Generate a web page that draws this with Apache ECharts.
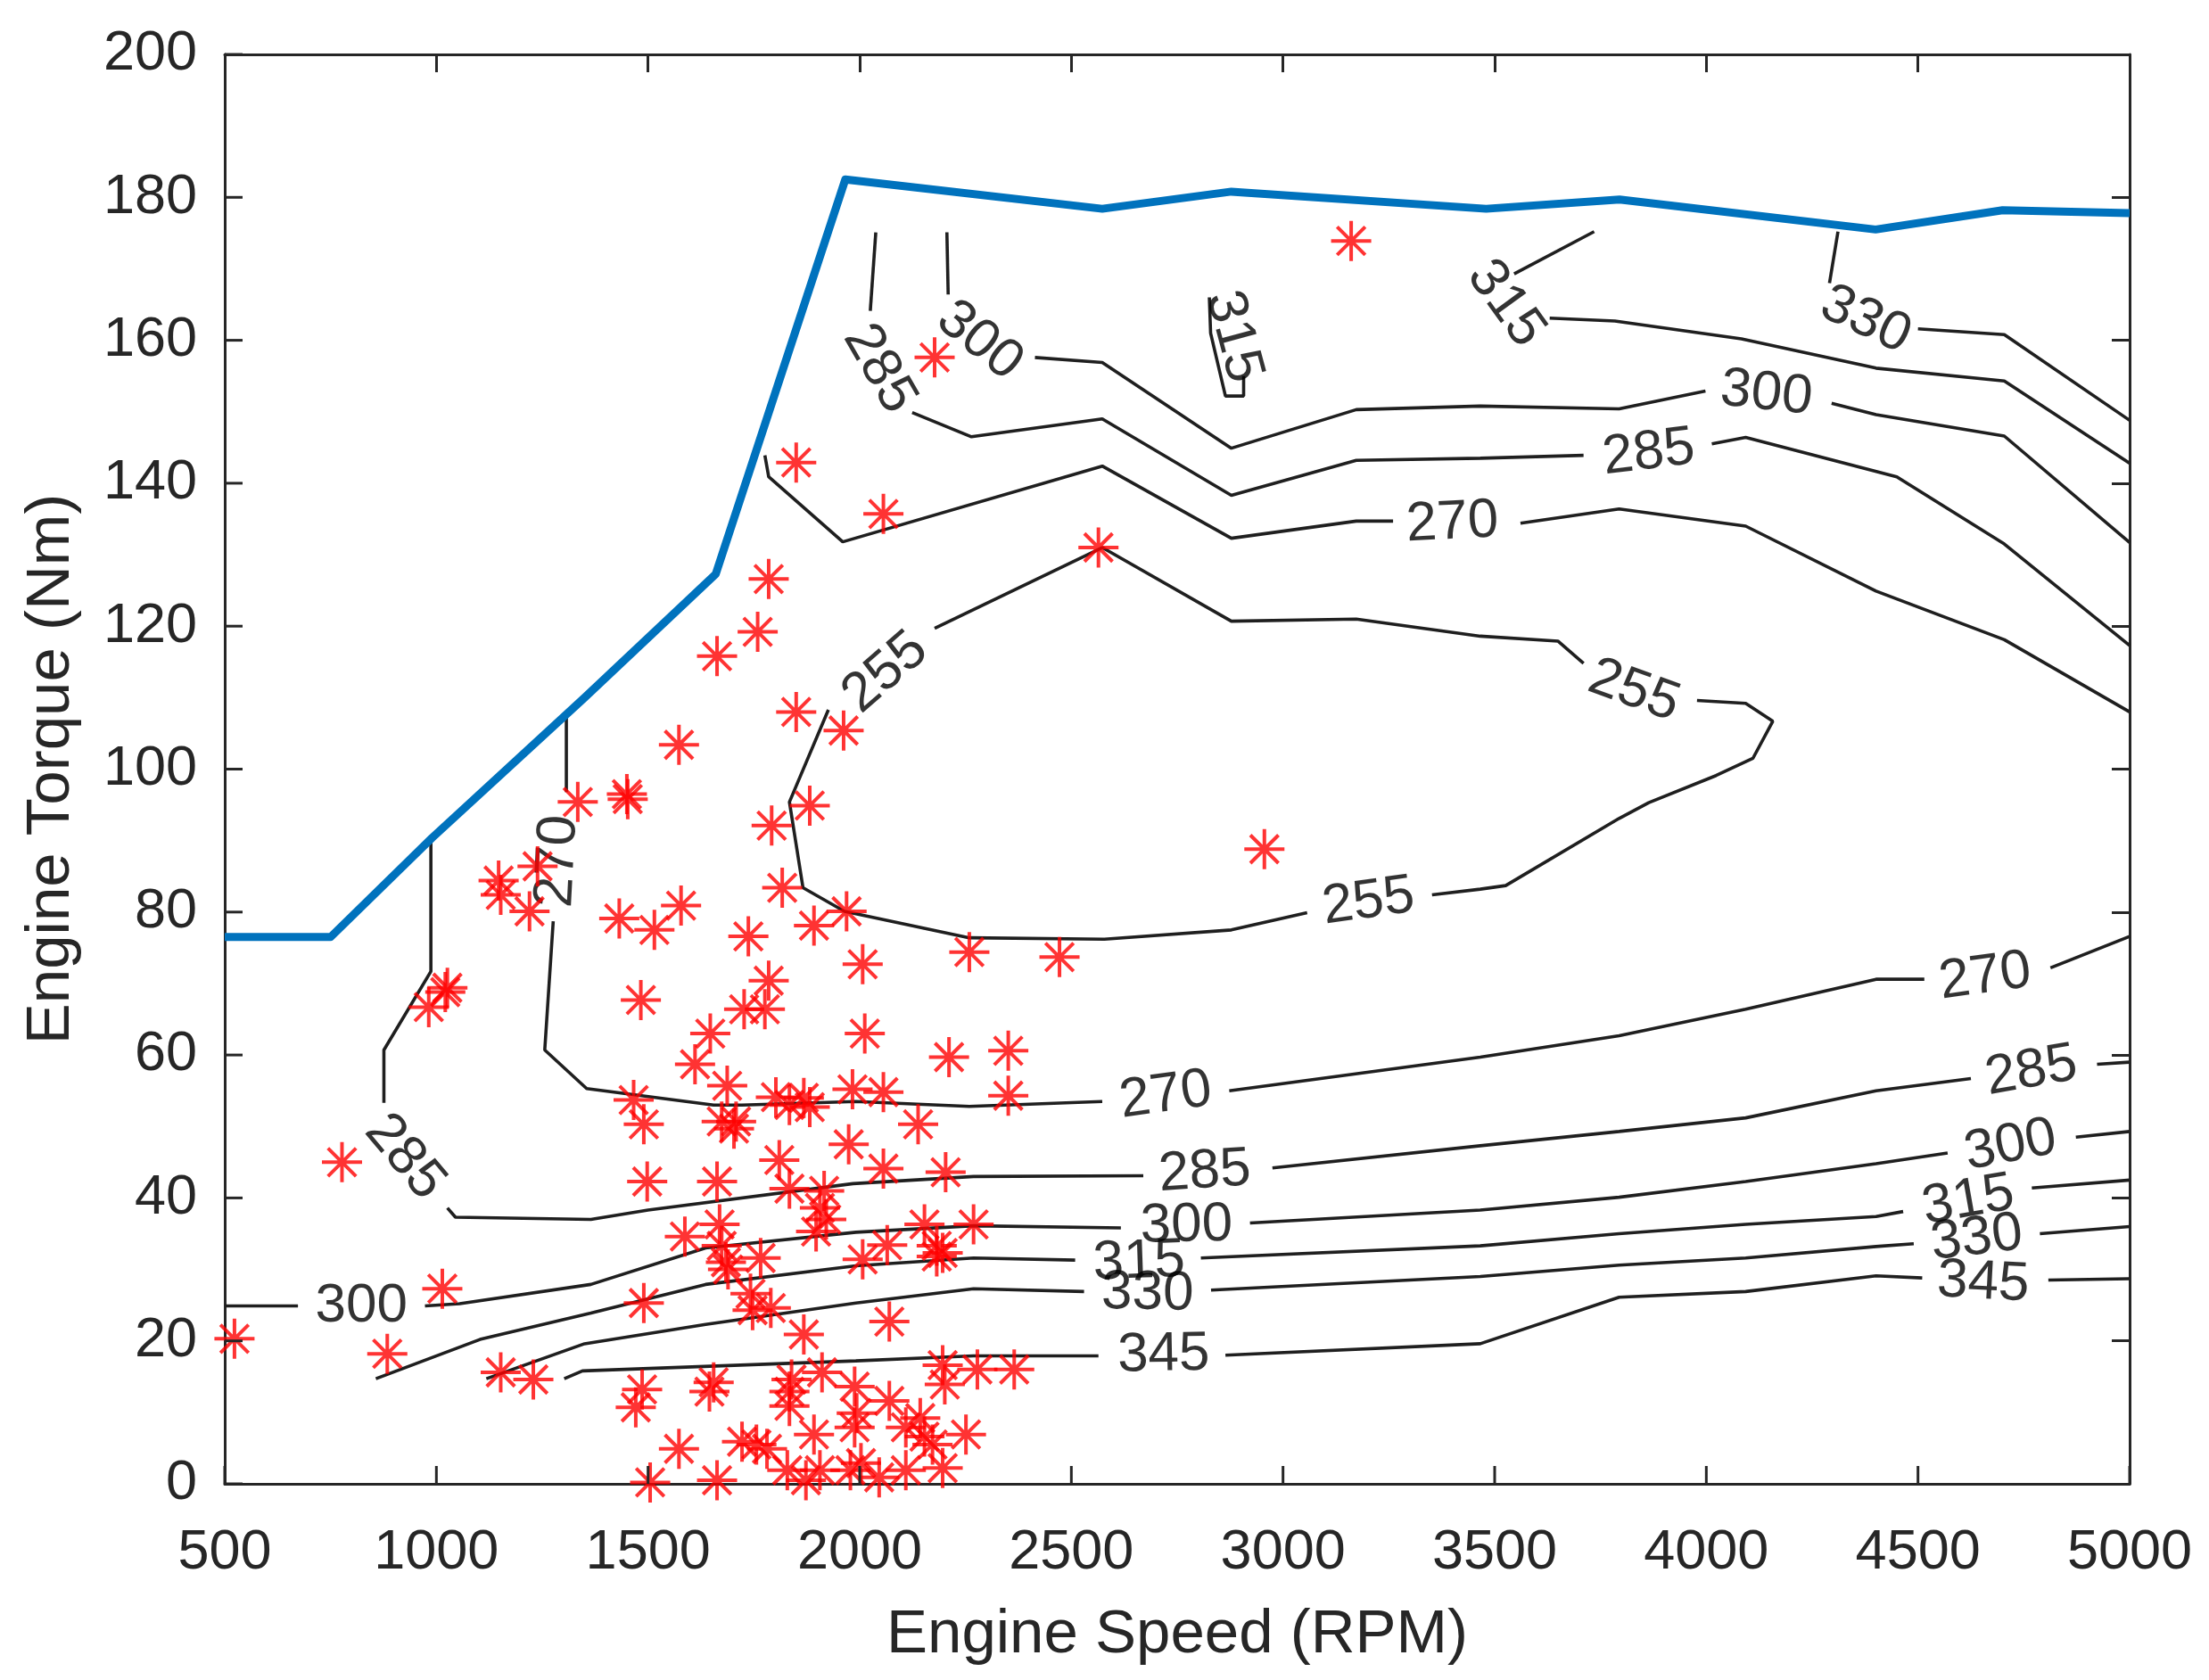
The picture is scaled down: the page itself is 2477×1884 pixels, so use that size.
<!DOCTYPE html>
<html><head><meta charset="utf-8">
<script src="https://cdn.jsdelivr.net/npm/echarts@6/dist/echarts.min.js"></script>
<style>html,body{margin:0;padding:0;background:#fff}#c{width:2477px;height:1884px}</style>
</head><body><div id="c"></div>
<script>
// ---- data (engine speed [RPM], torque [Nm]) ----
const xTicks = [500,1000,1500,2000,2500,3000,3500,4000,4500,5000];
const yTicks = [0,20,40,60,80,100,120,140,160,180,200];

const maxTorque = [[500,76.5],[750,76.5],[990,90.4],[1350,110],[1660,127.3],[1966,182.5],[2573,178.4],[2878,180.8],[3480,178.4],[3795,179.7],[4400,175.5],[4700,178.2],[5000,177.8]];

// contour polylines; null = gap where an inline label sits
const c255 = [[2177,119.7],[2573,131.0],[2878,120.7],[3173,121.0],[3466,118.6],[3650,117.9],[3710,114.8],null,
  [3978,109.6],[4093,109.2],[4157,106.7],[4110,101.5],[4023,99.1],[3864,95.3],[3794,93.1],[3526,83.7],[3466,83.2],[3352,82.4],null,
  [3057,79.9],[2878,77.5],[2578,76.2],[2259,76.4],[1964,80.1],[1866,83.4],[1834,95.4],[1926,108.3]];
const c270upper = [[1776,143.9],[1785,140.9],[1960,131.8],[2573,142.4],[2878,132.3],[3173,134.7],[3260,134.7],null,
  [3561,134.4],[3794,136.4],[4093,134.0],[4401,124.9],[4704,118.1],[5000,108.0]];
const c270lower = [[1307,107.5],[1307,96.8],null,[1276,78.7],[1256,60.7],[1355,55.3],[1655,53.0],[1722,53.0],[1991,53.5],[2259,52.8],[2573,53.5],null,
  [2873,55.0],[3466,59.7],[3794,62.7],[4093,66.4],[4401,70.6],[4515,70.6],null,[4813,72.2],[5000,76.6]];
const c285upper = [[2038,175.1],[2025,164.1],null,[2124,149.9],[2264,146.5],[2573,149.0],[2878,138.3],[3173,143.2],[3466,143.5],[3710,143.9],null,
  [4013,145.5],[4093,146.4],[4450,140.9],[4704,131.5],[5000,117.3]];
const c285lower = [[987,89.8],[987,71.7],[876,60.7],[876,53.3],null,[1026,38.6],[1045,37.3],[1365,37.0],[1500,38.3],[1984,42.0],[2269,43.0],[2670,43.1],null,
  [2975,44.2],[3466,47.3],[3794,49.3],[4093,51.2],[4401,55.0],[4625,56.7],null,[4923,58.7],[5000,59.0]];
const c300upper = [[2206,175.1],[2209,166.4],null,[2414,157.6],[2573,156.9],[2878,144.9],[3173,150.3],[3466,150.8],[3794,150.4],[3998,152.9],null,
  [4296,151.2],[4401,149.6],[4704,146.6],[5000,131.7]];
const c300lower = [[500,24.9],[673,24.9],null,[973,24.9],[1055,25.2],[1365,27.9],[1636,33.0],[1991,35.2],[2269,36.1],[2617,35.8],null,
  [2922,36.5],[3466,38.3],[3794,40.1],[4093,42.3],[4401,44.8],[4570,46.3],null,[4873,48.5],[5000,49.3]];
const c315top = [[3735,175.2],[3546,169.3],null,[3630,163.1],[3784,162.7],[4083,160.2],[4401,156.1],[4704,154.3],[5000,142.8]];
const c315mid = [[2826,166.0],[2829,161.0],[2864,152.2],[2907,152.2],[2907,155.0]];
const c315lower = [[857,14.7],[1103,20.2],[1365,23.9],[1636,27.9],[1991,30.5],[2269,31.6],[2509,31.3],null,
  [2806,31.6],[3466,33.3],[3794,35.0],[4093,36.3],[4401,37.4],[4465,38.1],null,[4769,41.4],[5000,42.5]];
const c330top = [[4311,175.2],[4291,168.0],null,[4500,161.6],[4704,160.8],[5000,148.8]];
const c330lower = [[1118,14.7],[1350,19.6],[1636,22.3],[1991,25.3],[2269,27.3],[2530,26.9],null,
  [2830,27.1],[3466,29.0],[3794,30.6],[4093,31.6],[4401,33.2],[4490,33.6],null,[4788,35.0],[5000,36.0]];
const c345 = [[1302,14.7],[1345,15.8],[1991,17.2],[2269,17.9],[2564,17.9],null,
  [2864,18.0],[3466,19.6],[3794,26.1],[4093,26.9],[4401,29.1],[4510,28.8],null,[4808,28.5],[5000,28.7]];

// inline contour labels: [rpm, torque, text, angle]
const contourLabels = [
  [2061,113.5,'255',41],[3829,110.9,'255',-20],[3202,81.4,'255',8],
  [3400,134.4,'270',3],[1287,87.1,'270',87],[2723,54.3,'270',8],[4659,70.9,'270',8],
  [2046,156.0,'285',-60],[3864,144.2,'285',7],[925,45.7,'285',-50],[2815,43.6,'285',4],[4768,57.7,'285',10],
  [2283,159.9,'300',-39],[4142,152.5,'300',-6],[823,24.9,'300',0],[2772,36.1,'300',1],[4719,47.3,'300',11],
  [3526,165.1,'315',-54],[2883,160.5,'315',-75],[2660,31.0,'315',2],[4619,39.6,'315',10],
  [4376,162.8,'330',-25],[2680,26.6,'330',-1],[4639,34.3,'330',7],
  [2718,18.0,'345',1],[4654,28.1,'345',-3]
];

const operatingPoints = [
  [1850,142.9],[1785,126.6],[1759,119.2],[1663,115.8],[1850,108.0],[1573,103.4],[1962,105.4],[2177,157.6],[2056,135.7],[2564,131.0],[3161,173.9],
  [1334,95.4],[1450,96.5],[1452,95.8],[1239,86.4],[1147,84.4],[1152,82.4],[1220,80.1],[1432,79.1],[1515,77.5],[1578,80.9],[1737,76.6],
  [1792,92.1],[1882,94.9],[1817,83.4],[1892,78.1],[1969,80.1],[2007,72.7],[1026,69.4],[1021,68.8],[982,66.7],
  [1483,67.7],[1785,70.4],[1727,66.4],[1776,66.4],[1647,63.0],[1611,58.7],[2012,63.0],
  [1687,55.7],[1466,53.7],[1490,50.3],[1802,54.1],[1834,53.0],[1868,54.0],[1882,52.7],[1983,55.2],[1674,50.7],[1703,49.7],[1708,50.7],
  [1810,45.3],[777,45.0],[1498,42.3],[1663,42.3],[1834,41.3],[1974,47.5],
  [1916,41.0],[1906,38.6],[1921,37.0],[1897,35.3],
  [1587,34.6],[1669,36.3],[1674,33.3],[1684,31.0],[1689,30.0],[1766,31.6],[1742,26.6],[1747,24.3],[1790,24.6],[1868,20.9],
  [1490,25.3],[1014,27.3],[523,20.3],[884,18.2],[1152,15.6],[1229,14.6],[1486,13.2],[1471,10.7],[1655,14.2],[1645,12.9],
  [1839,14.6],[1834,12.9],[1834,10.9],[1911,15.6],[1573,4.9],[1722,5.9],[1756,5.5],[1781,4.9],[1892,6.9],
  [1505,0.2],[1663,0.5],[1829,1.9],[1873,0.5],[1906,1.9],[1978,1.9],
  [2956,88.8],[2259,74.4],[2472,73.7],[2211,59.7],[2351,60.6],[2056,54.8],[2351,54.3],[2138,50.3],[2056,44.1],[2203,43.6],
  [2153,36.3],[2269,36.3],[2065,33.4],[2007,31.4],[2182,33.3],[2182,31.8],[2196,32.3],[2070,22.7],
  [2196,16.6],[2278,16.0],[2365,16.0],[2201,13.9],[1988,13.6],[1993,9.9],[2070,11.6],[1988,7.9],
  [2109,7.9],[2143,9.2],[2153,6.6],[2172,5.5],[2251,6.9],[2003,2.9],[2046,0.9],[2109,1.9],[2196,2.2]
];

const xName = 'Engine Speed (RPM)';
const yName = 'Engine Torque (Nm)';

// ---- build chart ----
const FONT = '"Liberation Sans", Arial, Helvetica, sans-serif';
const AX = '#262626';
const TICK = 20;
function splitSegs(arr){const out=[];let cur=[];arr.forEach(p=>{if(p===null){if(cur.length)out.push(cur);cur=[];}else cur.push(p);});if(cur.length)out.push(cur);return out;}
const series = [];
[c255,c270upper,c270lower,c285upper,c285lower,c300upper,c300lower,c315top,c315mid,c315lower,c330top,c330lower,c345].forEach(c=>{
  splitSegs(c).forEach(seg=>series.push({type:'line',data:seg,symbol:'none',silent:true,animation:false,z:2,
    lineStyle:{color:'#1f1f1f',width:3.6}}));
});
series.push({type:'scatter',silent:true,animation:false,z:3,symbol:'circle',symbolSize:1,
  itemStyle:{color:'rgba(0,0,0,0)'},
  label:{show:true,position:'inside',fontSize:62,color:'#000',fontFamily:FONT},
  data:contourLabels.map(l=>({value:[l[0],l[1]],label:{formatter:l[2],rotate:l[3]}}))});
series.push({type:'line',data:maxTorque,symbol:'none',silent:true,animation:false,z:4,
  lineStyle:{color:'#0072BD',width:9,join:'round'}});
series.push({type:'scatter',data:operatingPoints,silent:true,animation:false,z:5,
  symbol:'path://M50,0L50,100M0,50L100,50M15,15L85,85M15,85L85,15',symbolSize:45,
  itemStyle:{color:'rgba(0,0,0,0)',borderColor:'#ff0000',borderWidth:4}});
// inward tick marks on the bottom and left axes (placed through the axis scales)
series.push({type:'custom',silent:true,animation:false,z:6,clip:false,
  data:xTicks.map(v=>[v,yTicks[0]]),
  renderItem:(params,api)=>{const p=api.coord([api.value(0),api.value(1)]);
    return {type:'line',shape:{x1:p[0],y1:p[1],x2:p[0],y2:p[1]-TICK},style:{stroke:AX,lineWidth:3}};}});
series.push({type:'custom',silent:true,animation:false,z:6,clip:false,
  data:yTicks.map(v=>[xTicks[0],v]),
  renderItem:(params,api)=>{const p=api.coord([api.value(0),api.value(1)]);
    return {type:'line',shape:{x1:p[0],y1:p[1],x2:p[0]+TICK,y2:p[1]},style:{stroke:AX,lineWidth:3}};}});

function tickIn(){return {show:true,inside:true,length:TICK,lineStyle:{color:AX,width:3}};}
function aline(){return {show:true,onZero:false,lineStyle:{color:AX,width:3}};}
const chart = echarts.init(document.getElementById('c'),null,{renderer:'canvas'});
chart.setOption({
  backgroundColor:'#fff',
  animation:false,
  grid:{left:252,right:89,top:61,bottom:220,containLabel:false},
  xAxis:[
    {type:'value',position:'bottom',min:500,max:5000,interval:500,axisLine:aline(),axisTick:{show:false},splitLine:{show:false},
     axisLabel:{fontSize:63,color:AX,margin:46,fontFamily:FONT,formatter:v=>String(v)},
     name:xName,nameLocation:'middle',nameGap:135,nameTextStyle:{fontSize:69,color:AX,fontFamily:FONT}},
    {type:'value',position:'top',min:500,max:5000,interval:500,axisLine:aline(),axisTick:tickIn(),splitLine:{show:false},axisLabel:{show:false}}
  ],
  yAxis:[
    {type:'value',position:'left',min:0,max:200,interval:20,axisLine:aline(),axisTick:{show:false},splitLine:{show:false},
     axisLabel:{fontSize:63,color:AX,margin:31,fontFamily:FONT,formatter:v=>String(v)},
     name:yName,nameLocation:'middle',nameGap:160,nameRotate:90,nameTextStyle:{fontSize:69,color:AX,fontFamily:FONT}},
    {type:'value',position:'right',min:0,max:200,interval:20,axisLine:aline(),axisTick:tickIn(),splitLine:{show:false},axisLabel:{show:false}}
  ],
  series:series
});
</script></body></html>
